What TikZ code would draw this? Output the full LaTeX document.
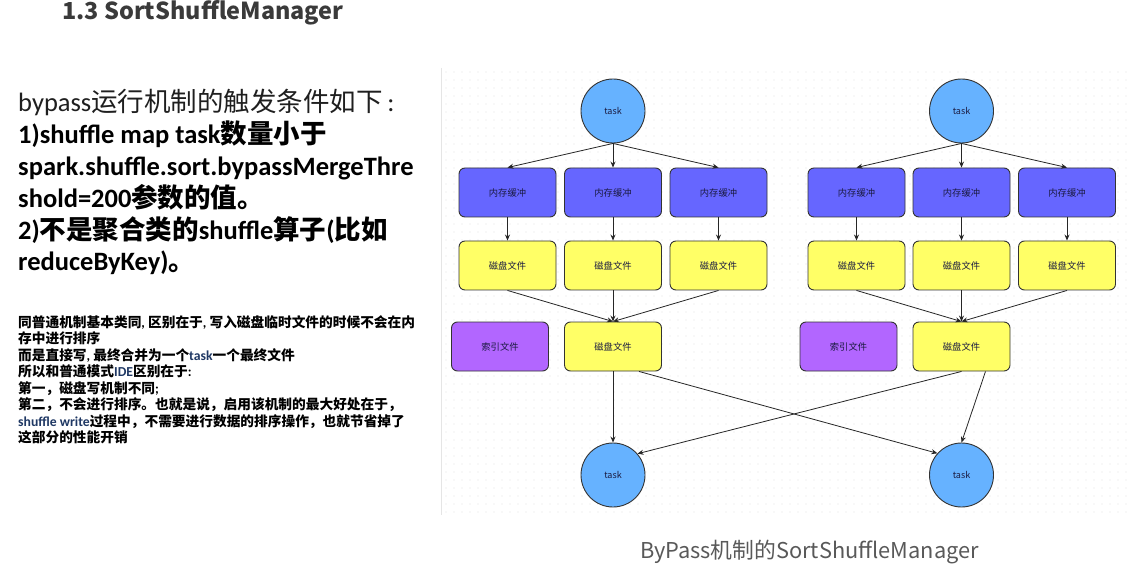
\documentclass[tikz,border=0pt]{standalone}
\usepackage{fontspec}
\setmainfont{Noto Sans CJK SC}
\newfontfamily\lat{Carlito}
\usetikzlibrary{arrows.meta}
\definecolor{taskc}{HTML}{66B2FF}
\definecolor{memc}{HTML}{6666FF}
\definecolor{diskc}{HTML}{FFFF66}
\definecolor{idxc}{HTML}{B266FF}
\definecolor{edgec}{HTML}{333333}
\definecolor{dotc}{HTML}{E2E2E2}
\definecolor{navy}{HTML}{1F3864}
\definecolor{titlec}{HTML}{3A3A3A}
\definecolor{capc}{HTML}{595959}
\definecolor{labc}{HTML}{1A1A40}
\begin{document}
\begin{tikzpicture}[x=1pt,y=-1pt,
 taskn/.style={circle,draw=edgec,line width=0.9pt,fill=taskc,minimum size=64pt,inner sep=0pt,font=\fontsize{9}{10}\selectfont,text=labc},
 boxn/.style={rectangle,rounded corners=6pt,draw=edgec,line width=0.9pt,minimum width=97pt,minimum height=49pt,inner sep=0pt,font=\fontsize{9.3}{10}\selectfont,text=labc},
 memn/.style={boxn,fill=memc},
 diskn/.style={boxn,fill=diskc},
 idxn/.style={boxn,fill=idxc},
 arr/.style={-{Stealth[length=6pt,width=5pt]},line width=0.8pt,draw=black!85},
 bigl/.style={anchor=base west,inner sep=0pt,font=\fontsize{26.5}{32}\selectfont},
 bigb/.style={bigl,font=\fontsize{26.5}{32}\selectfont\bfseries},
 smalll/.style={anchor=base west,inner sep=0pt,font=\fontsize{13.7}{16}\selectfont\bfseries}
]
\useasboundingbox (0,0) rectangle (1140,569);
\fill[white] (0,0) rectangle (1140,569);
% panel
\draw[black!10] (441,68) -- (441,515);
\foreach \x in {446,454,...,1126} {
  \foreach \y in {72,80,...,512} {
    \fill[dotc] (\x,\y) circle (0.7);
  }
}
% title
\node[anchor=base west,inner sep=0pt,font=\fontsize{23.4}{26}\selectfont\bfseries,text=titlec] (title) at (62,19.5) {1.3 SortShuffleManager};
% big text
\node[bigl,text=black!88] (l1) at (18,112) {{\lat bypass}运行机制的触发条件如下{\lat\,:}};
\node[bigb] (l2) at (18,144) {{\lat 1)shuffle map task}数量小于};
\node[bigb] (l3) at (18,176) {{\lat spark.shuffle.sort.bypassMergeThre}};
\node[bigb] (l4) at (18,208) {{\lat shold=200}参数的值。};
\node[bigb] (l5) at (18,240) {{\lat 2)}不是聚合类的{\lat shuffle}算子{\lat (}比如};
\node[bigb] (l6) at (18,271) {{\lat reduceByKey)}。};
% small text
\node[smalll] (s1) at (18,327) {同普通机制基本类同{\lat, }区别在于{\lat, }写入磁盘临时文件的时候不会在内};
\node[smalll] (s2) at (18,343.5) {存中进行排序};
\node[smalll] (s3) at (18,360) {而是直接写{\lat, }最终合并为一个\textcolor{navy}{\lat task}一个最终文件};
\node[smalll] (s4) at (18,376.5) {所以和普通模式\textcolor{navy}{\lat IDE}区别在于{\lat :}};
\node[smalll] (s5) at (18,393) {第一，磁盘写机制不同{\lat ;}};
\node[smalll] (s6) at (18,409.5) {第二，不会进行排序。也就是说，启用该机制的最大好处在于，};
\node[smalll] (s7) at (18,426) {\textcolor{navy}{\lat shuffle write}过程中，不需要进行数据的排序操作，也就节省掉了};
\node[smalll] (s8) at (18,442.5) {这部分的性能开销};
% caption
\node[anchor=base,inner sep=0pt,font=\fontsize{21.8}{24}\selectfont,text=capc] (cap) at (809.5,558) {ByPass机制的SortShuffleManager};
% diagram nodes
\node[taskn] (T1) at (613,111) {task};
\node[taskn] (T2) at (961.5,111) {task};
\node[memn] (A1) at (507.5,192.5) {内存缓冲};
\node[memn] (A2) at (613,192.5) {内存缓冲};
\node[memn] (A3) at (718.5,192.5) {内存缓冲};
\node[memn] (A4) at (856.5,192.5) {内存缓冲};
\node[memn] (A5) at (961.5,192.5) {内存缓冲};
\node[memn] (A6) at (1067,192.5) {内存缓冲};
\node[diskn] (D1) at (507.5,265.5) {磁盘文件};
\node[diskn] (D2) at (613,265.5) {磁盘文件};
\node[diskn] (D3) at (718.5,265.5) {磁盘文件};
\node[diskn] (D4) at (856.5,265.5) {磁盘文件};
\node[diskn] (D5) at (961.5,265.5) {磁盘文件};
\node[diskn] (D6) at (1067,265.5) {磁盘文件};
\node[idxn] (I1) at (500,346.5) {索引文件};
\node[diskn] (M1) at (613,346.5) {磁盘文件};
\node[idxn] (I2) at (848.5,346.5) {索引文件};
\node[diskn] (M2) at (961.5,346.5) {磁盘文件};
\node[taskn] (B1) at (613,475) {task};
\node[taskn] (B2) at (961.5,475) {task};
% edges
\foreach \t/\a/\b/\c in {T1/A1/A2/A3, T2/A4/A5/A6} {
  \draw[arr] (\t.south) -- (\a.north);
  \draw[arr] (\t.south) -- (\b.north);
  \draw[arr] (\t.south) -- (\c.north);
}
\foreach \a/\d in {A1/D1,A2/D2,A3/D3,A4/D4,A5/D5,A6/D6} {
  \draw[arr] (\a.south) -- (\d.north);
}
\foreach \d/\m in {D1/M1,D2/M1,D3/M1,D4/M2,D5/M2,D6/M2} {
  \draw[arr] (\d.south) -- (\m.north);
}
\draw[arr] (M1.south) -- (B1.north);
\draw[arr] ([xshift=26pt]M1.south) -- (B2.138);
\draw[arr] (M2.south) -- (B1.41);
\draw[arr] ([xshift=24pt]M2.south) -- (B2.north);
\end{tikzpicture}
\end{document}
